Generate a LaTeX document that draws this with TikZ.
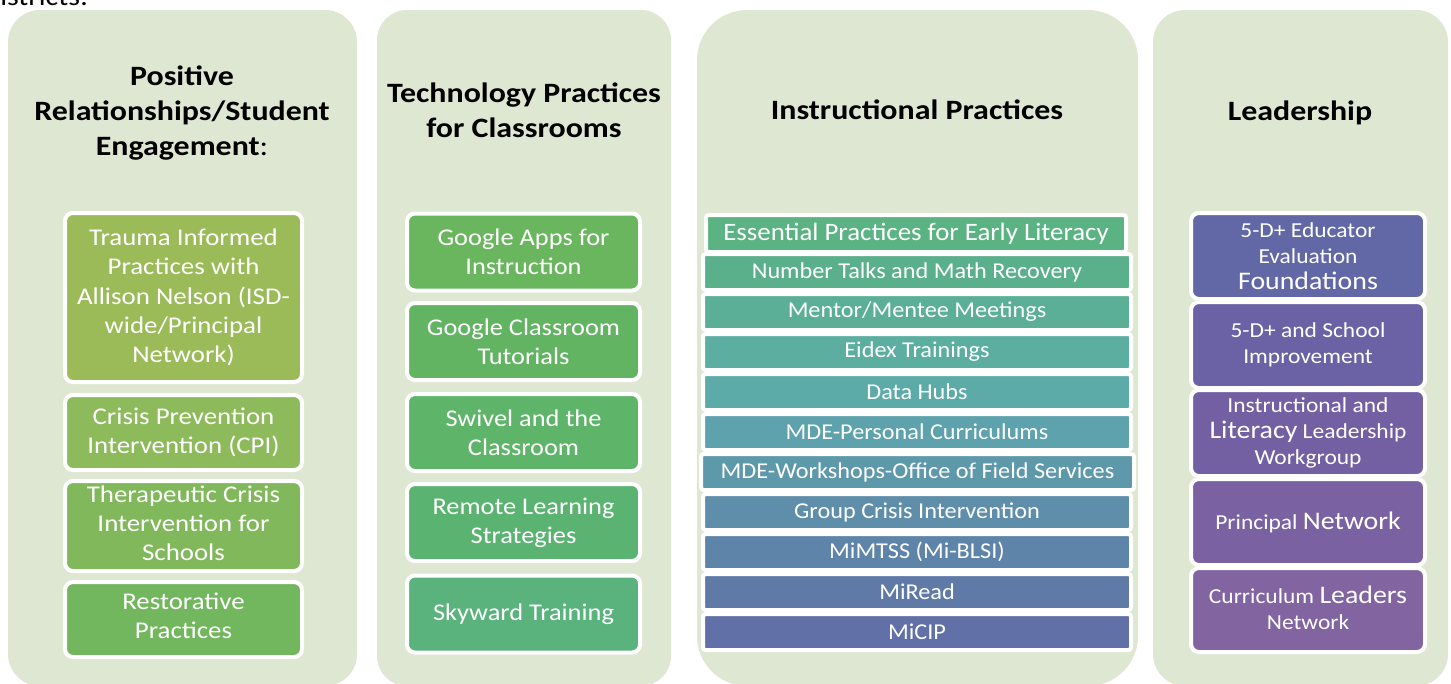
\documentclass[tikz,border=0pt]{standalone}
\usepackage{fontspec}
\setmainfont{Carlito}
% Carlito set a little wider, one width per column
\newfontfamily\headfont[FakeStretch=1.14]{Carlito}
\newfontfamily\widefont[FakeStretch=1.12]{Carlito}
\newfontfamily\techfont[FakeStretch=1.10]{Carlito}
\newfontfamily\rowfont[FakeStretch=1.07]{Carlito}
% panel background and tile colours
\definecolor{panelbg}{HTML}{DEE7D2}
\definecolor{ga}{HTML}{9BBB59}
\definecolor{gb}{HTML}{8DBA5A}
\definecolor{gc}{HTML}{80B85B}
\definecolor{gd}{HTML}{72B65D}
\definecolor{ta}{HTML}{6AB65E}
\definecolor{tb}{HTML}{62B463}
\definecolor{tc}{HTML}{5EB468}
\definecolor{td}{HTML}{5BB371}
\definecolor{te}{HTML}{5AB27C}
\definecolor{ia}{HTML}{5BB282}
\definecolor{ib}{HTML}{5BB08C}
\definecolor{ic}{HTML}{5BAF96}
\definecolor{id}{HTML}{5BAEA0}
\definecolor{ie}{HTML}{5CABA9}
\definecolor{if}{HTML}{5DA2AC}
\definecolor{ig}{HTML}{5E98AB}
\definecolor{ih}{HTML}{5F8EAA}
\definecolor{ii}{HTML}{5F84A9}
\definecolor{ij}{HTML}{607AA8}
\definecolor{ik}{HTML}{6170A6}
\definecolor{la}{HTML}{6268A6}
\definecolor{lb}{HTML}{6A62A4}
\definecolor{lc}{HTML}{7260A3}
\definecolor{ld}{HTML}{7A62A2}
\definecolor{le}{HTML}{8264A1}
\begin{document}
\begin{tikzpicture}[x=0.75pt,y=-0.75pt,
  panel/.style={fill=panelbg, rounded corners=#1},
  heading/.style={font=\headfont\fontsize{21}{26.25}\selectfont\bfseries, align=center, text=black, inner sep=0pt},
  tile/.style={draw=white, line width=3pt, rounded corners=6pt, text=white, align=center,
    inner sep=0pt, font=\widefont\fontsize{18}{22}\selectfont},
  leftbox/.style={tile, minimum width=177.75pt, minimum height=#1},
  techbox/.style={tile, minimum width=174.75pt, minimum height=57.75pt,
    font=\techfont\fontsize{18}{22}\selectfont},
  rowbox/.style={tile, rounded corners=2pt, minimum width=#1, minimum height=27pt,
    font=\rowfont\fontsize{17}{20}\selectfont},
  leadbox/.style={tile, minimum width=175.5pt, minimum height=#1,
    font=\techfont\fontsize{16}{19.5}\selectfont}
]
\useasboundingbox (0,0) rectangle (1451,683);

% line of text running above the panels
\node[anchor=base west, inner sep=0pt, font=\widefont\fontsize{20}{24}\selectfont] (lead) at (0,5) {istricts:};

% the four column panels
\fill[panel=24pt] (8,10) rectangle (357,686);
\fill[panel=22.5pt] (377,10) rectangle (671,686);
\fill[panel=37.5pt] (697,10) rectangle (1138,686);
\fill[panel=24pt] (1153,10) rectangle (1448,686);

% column headings
\node[heading] (h1) at (182,113) {Positive\\Relationships/Student\\Engagement{\mdseries:}};
\node[heading] (h2) at (524,110) {Technology Practices\\for Classrooms};
\node[heading] (h3) at (917,110) {Instructional Practices};
\node[heading] (h4) at (1300,112.5) {Leadership};

% Positive Relationships / Student Engagement
\node[leftbox=126.75pt, fill=ga] (p1) at (183.5,297.5) {Trauma Informed\\Practices with\\Allison Nelson (ISD-\\wide/Principal\\Network)};
\node[leftbox=56.25pt, fill=gb] (p2) at (183.5,432.5) {Crisis Prevention\\Intervention (CPI)};
\node[leftbox=67.5pt, fill=gc, text depth=4.5pt] (p3) at (183.5,526) {Therapeutic Crisis\\Intervention for\\Schools};
\node[leftbox=56.25pt, fill=gd, text depth=6pt] (p4) at (183.5,619.5) {Restorative\\Practices};

% Technology Practices for Classrooms
\node[techbox, fill=ta] (t1) at (523.5,252) {Google Apps for\\Instruction};
\node[techbox, fill=tb] (t2) at (523.5,341.5) {Google Classroom\\Tutorials};
\node[techbox, fill=tc] (t3) at (523.5,432.5) {Swivel and the\\Classroom};
\node[techbox, fill=td] (t4) at (523.5,522.5) {Remote Learning\\Strategies};
\node[techbox, fill=te] (t5) at (523.5,614) {Skyward Training};

% Instructional Practices
\node[rowbox=315pt, fill=ia, minimum height=27.75pt, font=\rowfont\fontsize{18.8}{20}\selectfont] (i1) at (916,233.5) {Essential Practices for Early Literacy};
\node[rowbox=321pt, fill=ib] (i2) at (917,272) {Number Talks and Math Recovery};
\node[rowbox=321pt, fill=ic] (i3) at (917,312) {Mentor/Mentee Meetings};
\node[rowbox=321pt, fill=id] (i4) at (917,352) {Eidex Trainings};
\node[rowbox=321pt, fill=ie] (i5) at (917,392) {Data Hubs};
\node[rowbox=321pt, fill=if] (i6) at (917,432) {MDE-Personal Curriculums};
\node[rowbox=324.75pt, fill=ig] (i7) at (917.5,472) {MDE-Workshops-Office of Field Services};
\node[rowbox=321pt, fill=ih] (i8) at (917,512) {Group Crisis Intervention};
\node[rowbox=321pt, fill=ii] (i9) at (917,552) {MiMTSS (Mi-BLSI)};
\node[rowbox=321pt, fill=ij] (i10) at (917,592) {MiRead};
\node[rowbox=321pt, fill=ik] (i11) at (917,632) {MiCIP};

% Leadership
\node[leadbox=64.5pt, fill=la] (l1) at (1308,256) {5-D+ Educator\\Evaluation\\{\fontsize{19}{20}\selectfont Foundations}};
\node[leadbox=64.5pt, fill=lb] (l2) at (1308,345) {5-D+ and School\\Improvement};
\node[leadbox=64.5pt, fill=lc] (l3) at (1308,433) {Instructional and\\{\fontsize{19}{20}\selectfont Literacy} Leadership\\Workgroup};
\node[leadbox=64.5pt, fill=ld] (l4) at (1308,522) {Principal {\fontsize{19}{20}\selectfont Network}};
\node[leadbox=63pt, fill=le, text depth=3pt] (l5) at (1308,610) {Curriculum {\fontsize{19}{20}\selectfont Leaders}\\Network};
\end{tikzpicture}
\end{document}
